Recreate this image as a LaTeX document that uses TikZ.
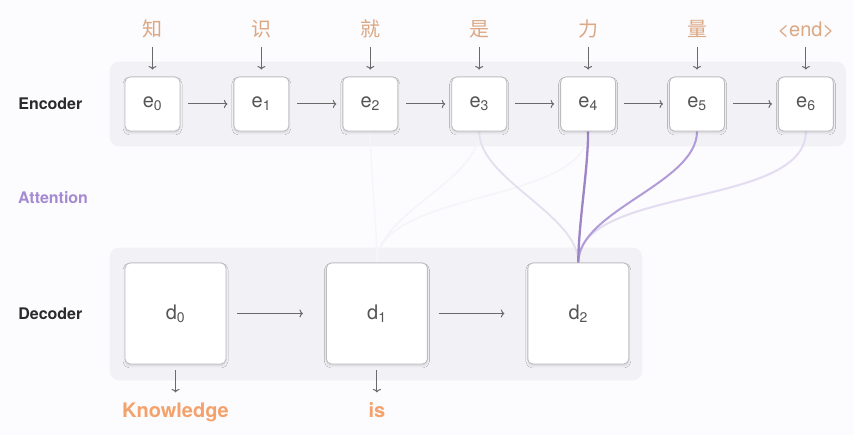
\documentclass[tikz,border=0pt]{standalone}
\usepackage{fontspec}
\setmainfont{TeX Gyre Heros}
\newfontfamily\cjk{Noto Sans CJK SC}
\usepackage{tikz}
\usetikzlibrary{arrows,arrows.meta,positioning,calc,backgrounds,shadows,shadows.blur}
\definecolor{bgcol}{HTML}{FCFBFD}
\definecolor{bandcol}{HTML}{F2F1F6}
\definecolor{boxline}{HTML}{BDBCC1}
\definecolor{arrowcol}{HTML}{6A6A6A}
\definecolor{boxtext}{HTML}{555555}
\definecolor{labeltext}{HTML}{2A2A2A}
\definecolor{tokencol}{HTML}{DBA884}
\definecolor{outcol}{HTML}{F4A26B}
\definecolor{attcol}{HTML}{A48BD1}
\tikzset{
    %Define standard arrow tip
    >={To[length=3.5pt,width=8pt]},
    %Define style for encoder boxes
    encbox/.style={
           rectangle,
           rounded corners=5pt,
           draw=boxline, line width=0.9pt,
           fill=white,
           minimum width=55pt,
           minimum height=54pt,
           inner sep=0pt,
           text=boxtext,
           font=\fontsize{20}{22}\selectfont,
           blur shadow={shadow blur steps=5,shadow xshift=0pt,shadow yshift=-2pt,
                        shadow opacity=12,shadow blur radius=2pt}},
    %Define style for decoder boxes
    decbox/.style={encbox,minimum width=101pt,minimum height=101pt},
    % Define arrow style
    pil/.style={
           ->,
           draw=arrowcol,
           line width=1pt},
    % Define text styles
    token/.style={text=tokencol,font=\fontsize{20}{22}\selectfont,inner sep=0pt,
                  text height=15pt,text depth=3pt},
    word/.style={text=outcol,font=\bfseries\fontsize{20}{22}\selectfont,inner sep=0pt,
                 text height=15pt,text depth=4pt},
    side/.style={text=labeltext,font=\bfseries\fontsize{16}{18}\selectfont,inner sep=0pt},
    band/.style={fill=bandcol,rounded corners=10pt},
    att/.style={out=-90,in=90,looseness=0.75,line width=2pt}
}

\begin{document}
\begin{tikzpicture}[x=1pt,y=1pt]
  \useasboundingbox (0,0) rectangle (854,435);
  % encoder
  \node[encbox] (e0) at (152.5,331) {e\textsubscript{0}};
  \node[encbox] (e1) [right=53pt of e0] {e\textsubscript{1}};
  \node[encbox] (e2) [right=53pt of e1] {e\textsubscript{2}};
  \node[encbox] (e3) [right=53pt of e2] {e\textsubscript{3}};
  \node[encbox] (e4) [right=53pt of e3] {e\textsubscript{4}};
  \node[encbox] (e5) [right=53pt of e4] {e\textsubscript{5}};
  \node[encbox] (e6) [right=53pt of e5] {e\textsubscript{6}};
  \node[token] (t0) [above=36.5pt of e0] {\cjk 知};
  \node[token] (t1) [above=36.5pt of e1] {\cjk 识};
  \node[token] (t2) [above=36.5pt of e2] {\cjk 就};
  \node[token] (t3) [above=36.5pt of e3] {\cjk 是};
  \node[token] (t4) [above=36.5pt of e4] {\cjk 力};
  \node[token] (t5) [above=36.5pt of e5] {\cjk 量};
  \node[token] (t6) [above=36.5pt of e6] {\textless end\textgreater};
  % decoder
  \node[decbox] (d0) at (175.5,121.5) {d\textsubscript{0}};
  \node[decbox] (d1) [right=99.5pt of d0] {d\textsubscript{1}};
  \node[decbox] (d2) [right=99.5pt of d1] {d\textsubscript{2}};
  \node[word] (w0) [below=38pt of d0] {Knowledge};
  \node[word] (w1) [below=38pt of d1] {is};
  % side labels
  \node[side] (enc) [left=42pt of e0] {Encoder};
  \node[side] (dec) [left=42pt of d0] {Decoder};
  \node[side,text=attcol,anchor=west] (attn) at (18,237) {Attention};

  \begin{scope}[on background layer]
    \fill[bgcol] (0,0) rectangle (854,435);
    \fill[band] ($(e0.north west)+(-15pt,15pt)$) rectangle ($(e6.south east)+(12pt,-15pt)$);
    \fill[band] ($(d0.north west)+(-15pt,15pt)$) rectangle ($(d2.south east)+(13pt,-16pt)$);
    % attention weights
    \draw[att,line width=1.5pt,color=bandcol!70!white] (e2.south) to (d1.north);
    \draw[att,line width=1.5pt,color=bandcol!80!white] (e3.south) to (d1.north);
    \draw[att,line width=1.5pt,color=bandcol!80!white] (e4.south) to (d1.north);
    \draw[att,line width=1.8pt,color=attcol!18!bandcol] (e3.south) to (d2.north);
    \draw[att,color=attcol!30!white] (e6.south) to (d2.north);
    \draw[att,color=attcol!85!white] (e5.south) to (d2.north);
    \draw[att,line width=2.3pt,color=attcol!95!black] (e4.south) to (d2.north);
  \end{scope}

  \draw[pil,shorten <=8pt,shorten >=6pt] (e0) -- (e1);
  \draw[pil,shorten <=8pt,shorten >=6pt] (e1) -- (e2);
  \draw[pil,shorten <=8pt,shorten >=6pt] (e2) -- (e3);
  \draw[pil,shorten <=8pt,shorten >=6pt] (e3) -- (e4);
  \draw[pil,shorten <=8pt,shorten >=6pt] (e4) -- (e5);
  \draw[pil,shorten <=8pt,shorten >=6pt] (e5) -- (e6);
  \draw[pil,shorten <=11pt,shorten >=23pt] (d0) -- (d1);
  \draw[pil,shorten <=11pt,shorten >=23pt] (d1) -- (d2);
  \draw[pil,shorten <=7pt,shorten >=7pt] (t0) -- (e0);
  \draw[pil,shorten <=7pt,shorten >=7pt] (t1) -- (e1);
  \draw[pil,shorten <=7pt,shorten >=7pt] (t2) -- (e2);
  \draw[pil,shorten <=7pt,shorten >=7pt] (t3) -- (e3);
  \draw[pil,shorten <=7pt,shorten >=7pt] (t4) -- (e4);
  \draw[pil,shorten <=7pt,shorten >=7pt] (t5) -- (e5);
  \draw[pil,shorten <=7pt,shorten >=7pt] (t6) -- (e6);
  \draw[pil,shorten <=6pt,shorten >=10pt] (d0) -- (w0);
  \draw[pil,shorten <=6pt,shorten >=10pt] (d1) -- (w1);
\end{tikzpicture}
\end{document}
